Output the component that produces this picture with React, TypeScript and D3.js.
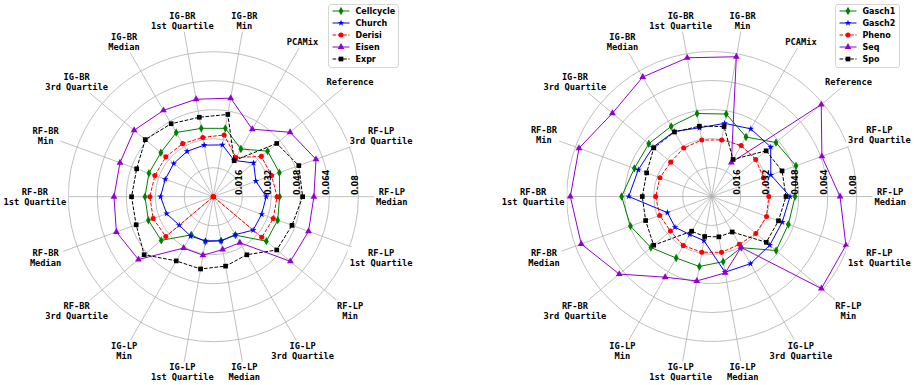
import { useEffect, useRef } from 'react';
import * as d3 from 'd3';

// axes, counter-clockwise starting at 40 degrees
const categories = [
  'Reference',
  'PCAMix',
  'IG-BR\nMin',
  'IG-BR\n1st Quartile',
  'IG-BR\nMedian',
  'IG-BR\n3rd Quartile',
  'RF-BR\nMin',
  'RF-BR\n1st Quartile',
  'RF-BR\nMedian',
  'RF-BR\n3rd Quartile',
  'IG-LP\nMin',
  'IG-LP\n1st Quartile',
  'IG-LP\nMedian',
  'IG-LP\n3rd Quartile',
  'RF-LP\nMin',
  'RF-LP\n1st Quartile',
  'RF-LP\nMedian',
  'RF-LP\n3rd Quartile',
];

const ticks = [0.016, 0.032, 0.048, 0.064, 0.08];
const tickLabels = ['0.016', '0.032', '0.048', '0.064', '0.08'];

// left chart
const cellcycle = [0.0391, 0.0304, 0.0383, 0.0383, 0.0409, 0.0378, 0.0378, 0.0377, 0.0381, 0.0375, 0.0243, 0.0252, 0.0247, 0.0245, 0.0382, 0.0378, 0.0366, 0.0388];
const church = [0.029, 0.0231, 0.029, 0.0289, 0.0289, 0.0285, 0.0282, 0.0291, 0.0274, 0.0245, 0.0251, 0.0247, 0.0247, 0.0242, 0.0287, 0.0284, 0.0292, 0.025];
const derisi = [0.0346, 0.025, 0.0346, 0.0332, 0.0338, 0.0342, 0.0343, 0.035, 0.0353, 0.0342, 0, 0, 0, 0, 0.0349, 0.0352, 0.0352, 0.0342];
const eisen = [0.0553, 0.043, 0.0552, 0.0546, 0.055, 0.057, 0.0548, 0.0548, 0.0569, 0.0539, 0.0327, 0.0328, 0.0296, 0.0293, 0.0555, 0.0559, 0.0555, 0.0603];
const expr = [0.0457, 0.023, 0.0461, 0.0445, 0.0465, 0.049, 0.045, 0.0451, 0.0453, 0.0498, 0.0409, 0.0405, 0.0389, 0.037, 0.0457, 0.0462, 0.0493, 0.0502];

// right chart
const gasch1 = [0.0463, 0.0379, 0.0462, 0.0465, 0.0447, 0.0453, 0.0454, 0.0497, 0.0477, 0.0438, 0.0392, 0.0392, 0.0365, 0.0326, 0.0464, 0.045, 0.046, 0.0495];
const gasch2 = [0.0425, 0.0431, 0.041, 0.0385, 0.0414, 0.0423, 0.0431, 0.0458, 0.026, 0.0264, 0.0242, 0.0247, 0.0424, 0.0428, 0.0418, 0.0414, 0.0432, 0.0347];
const pheno = [0.0317, 0.0325, 0.0317, 0.0316, 0.0309, 0.0295, 0.0304, 0.0309, 0.0305, 0.0297, 0.0313, 0.0312, 0.0313, 0.0305, 0.0318, 0.0322, 0.0315, 0.0304];
const seq = [0.0789, 0.0217, 0.0783, 0.0777, 0.0761, 0.0715, 0.0779, 0.078, 0.0766, 0.0666, 0.0514, 0.0473, 0.0428, 0.0324, 0.079, 0.0788, 0.0708, 0.0647];
const spo = [0.0392, 0.0236, 0.0392, 0.0394, 0.0411, 0.0417, 0.0382, 0.0383, 0.0388, 0.0418, 0.0221, 0.0224, 0.0226, 0.0226, 0.0393, 0.0392, 0.041, 0.0413];

const styles = [
  { color: '#008000', dash: null, symbol: d3.symbolDiamond, size: 20 },
  { color: '#0000ff', dash: null, symbol: d3.symbolStar, size: 14 },
  { color: '#ff0000', dash: '3.7,1.6', symbol: d3.symbolCircle, size: 20 },
  { color: '#9400d3', dash: null, symbol: d3.symbolTriangle, size: 20 },
  { color: '#000000', dash: '3.7,1.6', symbol: d3.symbolSquare, size: 22 },
];

type Series = { name: string; values: number[] };

const leftSeries: Series[] = [
  { name: 'Cellcycle', values: cellcycle },
  { name: 'Church', values: church },
  { name: 'Derisi', values: derisi },
  { name: 'Eisen', values: eisen },
  { name: 'Expr', values: expr },
];

const rightSeries: Series[] = [
  { name: 'Gasch1', values: gasch1 },
  { name: 'Gasch2', values: gasch2 },
  { name: 'Pheno', values: pheno },
  { name: 'Seq', values: seq },
  { name: 'Spo', values: spo },
];

const monoFont = '"DejaVu Sans Mono", monospace';
const sansFont = '"DejaVu Sans", sans-serif';

function drawRadar(
  root: d3.Selection<SVGGElement, unknown, null, undefined>,
  series: Series[],
  cx: number,
  cy: number,
  legend: { x: number; w: number }
) {
  const n = categories.length;
  const angle = d3
    .scaleLinear()
    .domain([0, n])
    .range([(40 * Math.PI) / 180, (400 * Math.PI) / 180]);
  const r = d3.scaleLinear().domain([0, 0.08]).range([0, 145]);

  const g = root.append('g').attr('transform', `translate(${cx},${cy})`);
  const px = (i: number, v: number) => r(v) * Math.cos(angle(i));
  const py = (i: number, v: number) => -r(v) * Math.sin(angle(i));

  // rings
  g.selectAll('circle.ring')
    .data(ticks)
    .join('circle')
    .attr('class', 'ring')
    .attr('r', (d) => r(d))
    .attr('fill', 'none')
    .attr('stroke', '#b0b0b0')
    .attr('stroke-width', 0.8);

  // spokes
  g.selectAll('line.spoke')
    .data(categories)
    .join('line')
    .attr('class', 'spoke')
    .attr('x1', 0)
    .attr('y1', 0)
    .attr('x2', (_, i) => 178 * Math.cos(angle(i)))
    .attr('y2', (_, i) => -178 * Math.sin(angle(i)))
    .attr('stroke', '#b0b0b0')
    .attr('stroke-width', 0.8);

  // series
  series.forEach((s, k) => {
    const st = styles[k];
    const line = d3
      .line<number>()
      .x((v, i) => px(i, v))
      .y((v, i) => py(i, v))
      .curve(d3.curveLinearClosed);
    g.append('path')
      .attr('d', line(s.values))
      .attr('fill', 'none')
      .attr('stroke', st.color)
      .attr('stroke-width', 1)
      .attr('stroke-dasharray', st.dash);
    g.selectAll(`path.m${k}`)
      .data(s.values)
      .join('path')
      .attr('class', `m${k}`)
      .attr('d', d3.symbol().type(st.symbol).size(st.size)())
      .attr('transform', (v, i) => `translate(${px(i, v)},${py(i, v)})`)
      .attr('fill', st.color);
  });

  // category labels with white boxes over the spokes
  const fs = 8.7;
  const lab = g
    .selectAll('g.lab')
    .data(categories)
    .join('g')
    .attr('class', 'lab')
    .attr('transform', (_, i) => `translate(${178.5 * Math.cos(angle(i))},${-178.5 * Math.sin(angle(i))})`);
  lab.each(function (d) {
    const lines = d.split('\n');
    const w = d3.max(lines, (l) => l.length)! * fs * 0.602;
    const h = lines.length * 10;
    const sel = d3.select(this);
    sel
      .append('rect')
      .attr('x', -w / 2 - 2)
      .attr('y', -h / 2 - 1)
      .attr('width', w + 4)
      .attr('height', h + 2)
      .attr('fill', '#fff');
    lines.forEach((l, j) => {
      sel
        .append('text')
        .attr('y', (j - (lines.length - 1) / 2) * 10)
        .attr('text-anchor', 'middle')
        .attr('dominant-baseline', 'central')
        .style('font-family', monoFont)
        .style('font-weight', 'bold')
        .style('font-size', `${fs}px`)
        .text(l);
    });
  });

  // radial tick labels
  g.selectAll('text.tick')
    .data(ticks)
    .join('text')
    .attr('class', 'tick')
    .attr('transform', (d) => `translate(${r(d) - 0.8},-1.7) rotate(-90)`)
    .attr('text-anchor', 'start')
    .style('font-family', sansFont)
    .style('font-weight', 'bold')
    .style('font-size', '8px')
    .text((_, i) => tickLabels[i]);

  // legend
  const lg = root.append('g').attr('transform', `translate(${legend.x},4.5)`);
  lg.append('rect')
    .attr('width', legend.w)
    .attr('height', 63)
    .attr('rx', 2.5)
    .attr('fill', '#fff')
    .attr('fill-opacity', 0.8)
    .attr('stroke', '#cccccc')
    .attr('stroke-width', 0.8);
  series.forEach((s, k) => {
    const st = styles[k];
    const y = 6.5 + 12 * k;
    lg.append('line')
      .attr('x1', 4)
      .attr('x2', 21)
      .attr('y1', y)
      .attr('y2', y)
      .attr('stroke', st.color)
      .attr('stroke-width', 1)
      .attr('stroke-dasharray', st.dash);
    lg.append('path')
      .attr('d', d3.symbol().type(st.symbol).size(st.size)())
      .attr('transform', `translate(12.5,${y})`)
      .attr('fill', st.color);
    lg.append('text')
      .attr('x', 27)
      .attr('y', y)
      .attr('dominant-baseline', 'central')
      .style('font-family', sansFont)
      .style('font-weight', 'bold')
      .style('font-size', '8px')
      .text(s.name);
  });
}

export default function App() {
  const svgRef = useRef<SVGSVGElement>(null);
  const width = 914;
  const height = 385;

  useEffect(() => {
    if (!svgRef.current) return;
    const svg = d3.select(svgRef.current);
    svg.selectAll('*').remove();
    const root = svg.append('g');
    drawRadar(root, leftSeries, 213.3, 196.7, { x: 328.5, w: 70 });
    drawRadar(root, rightSeries, 711.7, 196.5, { x: 835.5, w: 64 });
  }, []);

  return (
    <svg
      ref={svgRef}
      width={width}
      height={height}
      style={{ position: 'absolute', left: 0, top: 0, background: '#fff' }}
    ></svg>
  );
}
